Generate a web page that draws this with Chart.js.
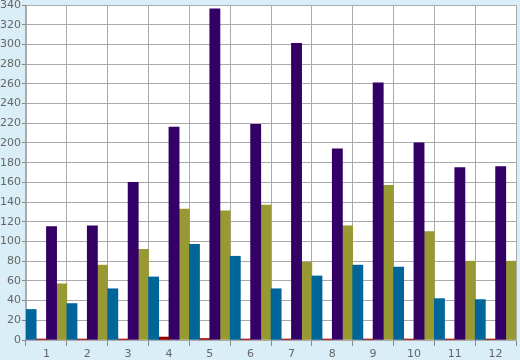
<!DOCTYPE html>
<html>
<head>
<meta charset="utf-8">
<script src="https://cdn.jsdelivr.net/npm/chart.js@4/dist/chart.umd.min.js"></script>
<style>
html,body{margin:0;padding:0;background:#d9eef6;}
#wrap{width:520px;height:360px;}
</style>
</head>
<body>
<div id="wrap"><canvas id="c" width="520" height="360"></canvas></div>
<script>
const categories = ['1','2','3','4','5','6','7','8','9','10','11','12'];
const blueValues   = [31, 37, 52, 64, 97, 85, 52, 65, 76, 74, 42, 41];
const redValues    = [1, 1, 1, 3, 1.5, 1, 1, 1, 1, 1, 1, 1];
const purpleValues = [115, 116, 160, 216, 336, 219, 301, 194, 261, 200, 175, 176];
const oliveValues  = [57, 76, 92, 133, 131, 137, 79, 116, 157, 110, 80, 80];
const yTicks = {min: 0, max: 340, step: 20};

const bgPlugin = {
  id: 'bg',
  beforeDraw(chart) {
    const ctx = chart.ctx, a = chart.chartArea;
    ctx.save();
    ctx.fillStyle = '#d9eef6';
    ctx.fillRect(0, 0, chart.width, chart.height);
    ctx.fillStyle = '#ffffff';
    ctx.fillRect(a.left, a.top, a.right - a.left, a.bottom - a.top);
    ctx.restore();
  }
};

const font = {family: '"DejaVu Sans", Verdana, sans-serif', size: 11};

new Chart(document.getElementById('c'), {
  type: 'bar',
  data: {
    labels: categories,
    datasets: [
      {data: blueValues, backgroundColor: '#006699'},
      {data: redValues, backgroundColor: '#990000'},
      {data: purpleValues, backgroundColor: '#330066'},
      {data: oliveValues, backgroundColor: '#999933'}
    ]
  },
  options: {
    responsive: false,
    animation: false,
    events: [],
    layout: {padding: {top: 5, right: 4, left: 0, bottom: 0}},
    plugins: {legend: {display: false}, tooltip: {enabled: false}},
    datasets: {bar: {categoryPercentage: 1, barPercentage: 1, borderWidth: 0}},
    scales: {
      x: {
        offset: true,
        grid: {offset: true, color: '#aaaaaa', lineWidth: 1, tickLength: 6, tickColor: '#888888'},
        border: {color: '#aaaaaa'},
        ticks: {color: '#666666', font: font, padding: 2, maxRotation: 0},
        afterFit(s) { s.height = 20; s.paddingLeft = 0; s.paddingRight = 0; }
      },
      y: {
        min: yTicks.min, max: yTicks.max,
        grid: {color: '#aaaaaa', lineWidth: 1, tickLength: 4, tickColor: '#888888'},
        border: {color: '#aaaaaa'},
        ticks: {stepSize: yTicks.step, color: '#666666', font: font, padding: 1},
        afterFit(s) { s.width = 26; s.paddingTop = 0; s.paddingBottom = 0; }
      }
    }
  },
  plugins: [bgPlugin]
});
</script>
</body>
</html>
